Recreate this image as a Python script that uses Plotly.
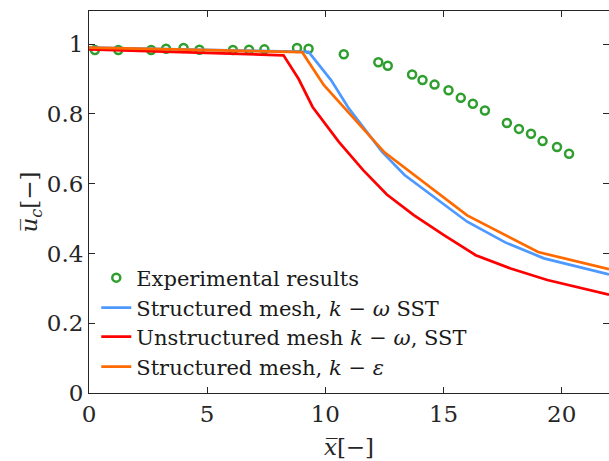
import plotly.graph_objects as go

# Experimental results
exp_x = [0.25, 1.24, 2.63, 3.26, 4.0, 4.67, 6.09, 6.77, 7.42, 8.8, 9.29, 10.78,
         12.24, 12.64, 13.67, 14.11, 14.62, 15.21, 15.73, 16.24, 16.75,
         17.68, 18.19, 18.70, 19.19, 19.80, 20.31]
exp_y = [0.983, 0.983, 0.983, 0.987, 0.989, 0.984, 0.983, 0.984, 0.985, 0.989, 0.987, 0.971,
         0.948, 0.938, 0.913, 0.897, 0.884, 0.868, 0.846, 0.829, 0.810,
         0.774, 0.757, 0.743, 0.722, 0.705, 0.686]

# Structured mesh, k-omega SST
sst_x = [0, 9.29, 10.24, 11.0, 12.4, 13.35, 16.0, 17.63, 19.25, 22.0]
sst_y = [0.990, 0.978, 0.897, 0.815, 0.691, 0.625, 0.491, 0.431, 0.386, 0.340]

# Unstructured mesh k-omega SST
uns_x = [0, 8.23, 8.87, 9.46, 10.57, 11.6, 12.6, 13.74, 15.0, 16.36, 17.84, 19.39, 22.0]
uns_y = [0.985, 0.968, 0.900, 0.820, 0.720, 0.639, 0.569, 0.510, 0.453, 0.395, 0.357, 0.324, 0.282]

# Structured mesh, k-epsilon
keps_x = [0, 9.02, 9.93, 12.5, 16.0, 19.0, 22.0]
keps_y = [0.990, 0.977, 0.883, 0.690, 0.509, 0.404, 0.355]

x_ticks = [0, 5, 10, 15, 20]
y_ticks = [0, 0.2, 0.4, 0.6, 0.8, 1]
y_tick_labels = ["0", "0.2", "0.4", "0.6", "0.8", "1"]

FONT = "DejaVu Serif"

fig = go.Figure()
fig.add_trace(go.Scatter(
    x=exp_x, y=exp_y, mode="markers", name="Experimental results",
    marker=dict(symbol="circle-open", size=8, color="#2e9e2e", line=dict(width=2.5, color="#2e9e2e")),
    legend="legend"))
fig.add_trace(go.Scatter(
    x=sst_x, y=sst_y, mode="lines", name="Structured mesh, <i>k</i> − <i>ω</i> SST",
    line=dict(color="#4d99ff", width=2.7), legend="legend2"))
fig.add_trace(go.Scatter(
    x=uns_x, y=uns_y, mode="lines", name="Unstructured mesh <i>k</i> − <i>ω</i>, SST",
    line=dict(color="#ff0000", width=2.7), legend="legend3"))
fig.add_trace(go.Scatter(
    x=keps_x, y=keps_y, mode="lines", name="Structured mesh, <i>k</i> − <i>ε</i>",
    line=dict(color="#ff6a00", width=2.7), legend="legend4"))

leg_common = dict(xanchor="left", yanchor="middle", bgcolor="rgba(0,0,0,0)",
                  font=dict(family=FONT, size=21, color="#1a1a1a"),
                  itemwidth=30, tracegroupgap=0)

def py(p):
    return (393 - p) / (393 - 11)

fig.update_layout(
    width=609, height=461,
    margin=dict(l=89, r=0, t=11, b=68),
    paper_bgcolor="white", plot_bgcolor="white",
    font=dict(family=FONT, size=22, color="#262626"),
    showlegend=True,
    legend=dict(x=0.014, y=py(278), **leg_common),
    legend2=dict(x=0.014, y=py(308), **leg_common),
    legend3=dict(x=0.014, y=py(337), **leg_common),
    legend4=dict(x=0.014, y=py(367), **leg_common),
    xaxis=dict(range=[0, 22], tickvals=x_ticks, ticks="inside", ticklen=6,
               showline=True, linecolor="#262626", linewidth=1, mirror="ticks",
               tickcolor="#262626", showgrid=False, zeroline=False,
               tickfont=dict(family=FONT, size=23, color="#262626"),
               title=dict(text="<i>x̅</i>[−]", font=dict(family=FONT, size=23, color="#262626"), standoff=13)),
    yaxis=dict(range=[0, 1.095], tickvals=y_ticks, ticktext=y_tick_labels, ticks="inside", ticklen=6,
               showline=True, linecolor="#262626", linewidth=1, mirror="ticks",
               tickcolor="#262626", showgrid=False, zeroline=False,
               tickfont=dict(family=FONT, size=23, color="#262626"),
               title=dict(text="<i>u̅<sub>c</sub></i>[−]", font=dict(family=FONT, size=23, color="#262626"), standoff=2)),
)

fig.write_html("out.html")
